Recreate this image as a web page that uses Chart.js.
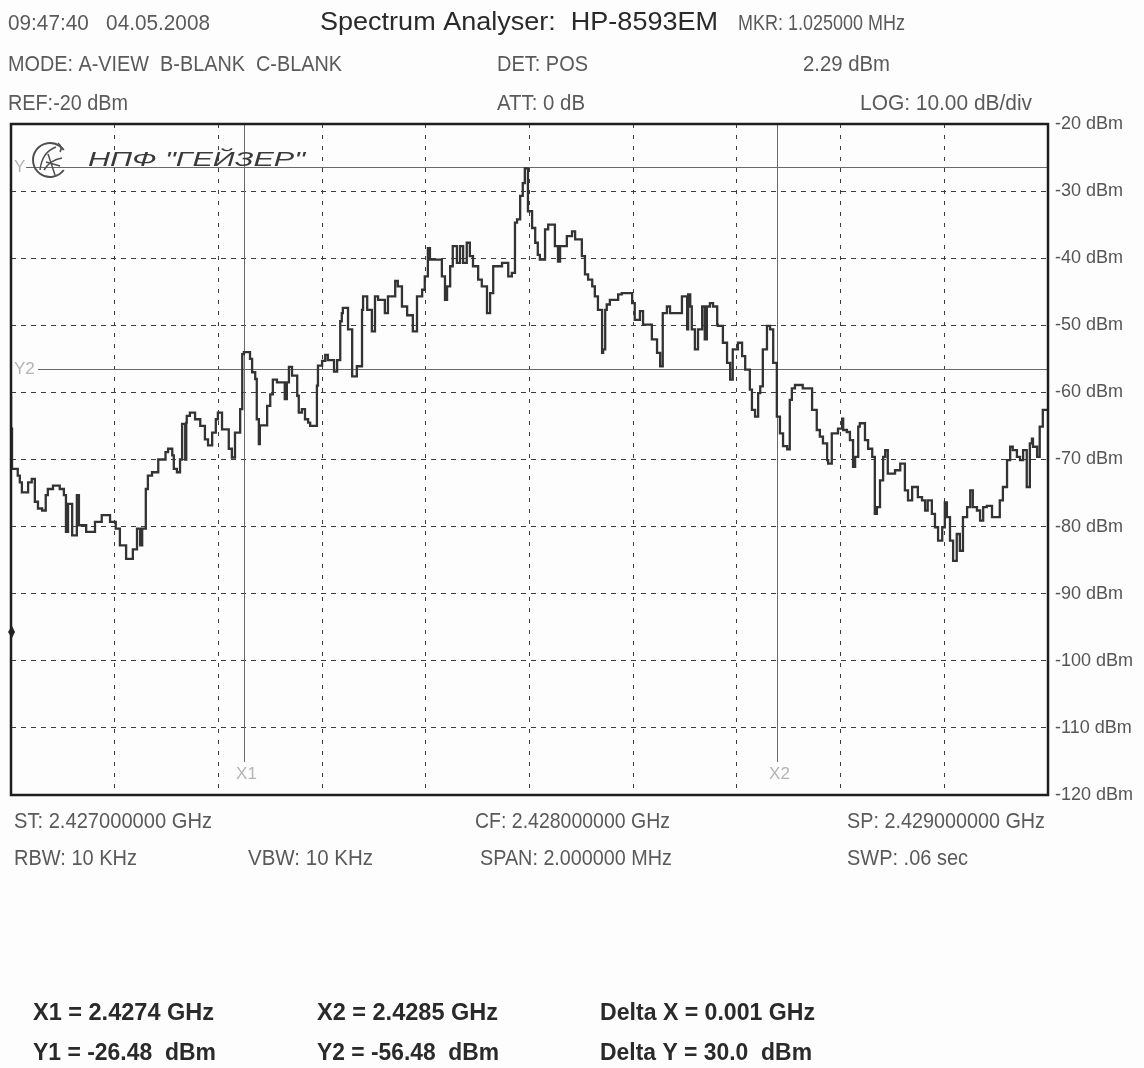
<!DOCTYPE html>
<html>
<head>
<meta charset="utf-8">
<script src="https://cdn.jsdelivr.net/npm/chart.js@4/dist/chart.umd.min.js"></script>
<style>
    html, body { margin: 0; padding: 0; background: #fdfdfd; }
    #spectrum { display: block; }
</style>
</head>
<body>
<canvas id="spectrum" width="1144" height="1068"></canvas>
<script>
const startMHz = 2427;
const stopMHz = 2429;
const levelTicks = [-20, -30, -40, -50, -60, -70, -80, -90, -100, -110, -120];

// trace breakpoints: kHz above ST, level in dBm (held until next breakpoint)
const offsetKHz = [
    0, 2, 13, 17, 21, 33, 40, 46, 52, 60, 67, 71, 81, 94, 102, 106, 110, 118, 127, 131,
    145, 162, 175, 191, 202, 210, 222, 235, 243, 249, 253, 260, 264, 272, 284, 298, 303, 311, 314, 320,
    326, 330, 336, 338, 339, 345, 355, 365, 374, 380, 388, 395, 399, 407, 420, 426, 432, 442, 446, 449,
    461, 465, 471, 474, 478, 480, 494, 500, 505, 513, 528, 532, 536, 542, 552, 555, 561, 567, 573, 577,
    590, 592, 600, 606, 611, 623, 629, 635, 638, 640, 650, 658, 667, 677, 679, 687, 696, 702, 708, 721,
    727, 741, 746, 754, 764, 775, 783, 793, 798, 804, 808, 831, 837, 841, 847, 852, 860, 866, 872, 879,
    885, 891, 901, 908, 918, 924, 930, 947, 959, 966, 972, 976, 982, 987, 991, 997, 1005, 1011, 1016, 1020,
    1030, 1036, 1049, 1055, 1059, 1072, 1082, 1088, 1101, 1107, 1113, 1121, 1126, 1132, 1140, 1142, 1146, 1149, 1155, 1171,
    1178, 1198, 1203, 1213, 1219, 1236, 1246, 1252, 1257, 1265, 1271, 1294, 1304, 1306, 1310, 1313, 1319, 1325, 1333, 1338,
    1342, 1348, 1354, 1362, 1363, 1373, 1381, 1387, 1392, 1402, 1410, 1416, 1425, 1429, 1435, 1441, 1445, 1450, 1458, 1464,
    1470, 1477, 1483, 1489, 1497, 1502, 1506, 1512, 1527, 1545, 1554, 1560, 1566, 1574, 1576, 1583, 1595, 1603, 1605, 1612,
    1618, 1624, 1628, 1634, 1637, 1647, 1653, 1661, 1666, 1670, 1676, 1682, 1686, 1691, 1705, 1715, 1724, 1730, 1738, 1749,
    1757, 1763, 1768, 1776, 1782, 1788, 1796, 1801, 1805, 1811, 1817, 1824, 1830, 1836, 1844, 1850, 1855, 1863, 1869, 1875,
    1882, 1892, 1907, 1913, 1921, 1927, 1932, 1940, 1946, 1952, 1959, 1965, 1969, 1971, 1979, 1984, 1990, 1995, 2000
];
const levelDbm = [
    -60.5, -65.4, -71.4, -72.4, -73.4, -74.9, -73.4, -72.9, -76.3, -77.3, -77.6, -75.3, -74.4, -73.9, -74.4, -75.3, -80.8, -76.6, -81.3, -75.3,
    -79.8, -80.8, -79.3, -78.3, -79.3, -80.3, -82.8, -84.8, -83.4, -80.3, -82.8, -80.3, -74.4, -72.4, -71.9, -70.0, -68.9, -68.4, -69.4, -71.4,
    -71.9, -70.0, -64.7, -70.0, -64.5, -63.5, -63.0, -64.0, -65.0, -67.0, -67.9, -66.0, -64.0, -63.0, -65.5, -68.4, -69.7, -66.0, -62.5, -54.3,
    -54.0, -55.0, -57.0, -58.0, -64.0, -67.7, -64.9, -62.0, -60.3, -58.1, -58.5, -61.0, -58.5, -56.2, -57.5, -60.5, -63.0, -62.5, -64.0, -64.5,
    -65.0, -59.0, -56.0, -55.3, -54.4, -55.2, -56.9, -55.2, -49.4, -48.2, -47.4, -50.6, -57.6, -56.1, -47.7, -45.7, -47.7, -50.9, -45.7, -46.2,
    -48.2, -45.7, -43.4, -44.2, -47.2, -48.5, -50.9, -45.7, -44.7, -42.7, -38.5, -40.2, -42.7, -46.2, -44.2, -41.2, -38.2, -40.7, -38.2, -40.7,
    -37.7, -39.7, -41.2, -43.2, -44.2, -48.2, -45.2, -41.2, -40.7, -42.7, -42.2, -34.7, -34.2, -30.7, -28.8, -26.6, -33.0, -35.5, -37.7, -39.5,
    -40.2, -35.7, -35.0, -38.2, -40.5, -38.2, -36.7, -36.0, -37.2, -39.7, -42.4, -43.2, -44.2, -45.7, -47.7, -54.1, -53.6, -47.7, -46.9, -46.2,
    -45.4, -45.2, -46.7, -49.2, -47.9, -49.9, -52.1, -54.1, -56.1, -48.2, -47.2, -48.2, -45.7, -50.6, -45.4, -47.2, -50.6, -53.6, -50.6, -47.2,
    -52.1, -47.2, -46.7, -47.2, -49.9, -50.1, -52.6, -55.6, -58.1, -53.6, -52.6, -54.6, -56.6, -59.6, -62.6, -63.6, -60.1, -59.1, -53.6, -50.1,
    -50.6, -55.6, -63.6, -66.1, -68.0, -68.5, -61.1, -59.4, -58.9, -59.4, -62.6, -65.6, -66.6, -67.6, -70.1, -70.6, -66.1, -65.4, -63.9, -65.6,
    -65.9, -67.1, -71.1, -69.6, -65.1, -64.6, -67.1, -68.4, -69.6, -78.1, -77.1, -73.1, -69.6, -68.6, -72.1, -71.6, -70.6, -74.6, -76.1, -74.1,
    -75.6, -76.1, -77.6, -76.1, -78.1, -80.1, -82.1, -80.1, -76.4, -78.6, -82.1, -85.1, -81.1, -83.6, -78.6, -77.1, -74.6, -77.1, -77.6, -79.1,
    -77.1, -76.9, -78.6, -76.1, -74.1, -70.1, -68.1, -68.6, -69.6, -70.1, -68.6, -74.1, -67.6, -66.9, -68.1, -69.6, -65.1, -62.6, -62.6
];

// markers
const freqMarkerNames = ['X1', 'X2'];
const freqMarkerMHz = [2427.449, 2428.477];
const levelMarkerNames = ['Y1', 'Y2'];
const levelMarkerDbm = [-26.48, -56.48];
const refArrowDbm = -95.7;

const FONT = '"Liberation Sans", Arial, sans-serif';

const textRows = [
    // text, left, baseline, width, font, colour
    ['09:47:40   04.05.2008', 8, 30, 202, `22px ${FONT}`, '#5a5a5a'],
    ['Spectrum Analyser:  HP-8593EM', 320, 30, 398, `25px ${FONT}`, '#2a2a2a'],
    ['MKR: 1.025000 MHz', 738, 30, 167, `22px ${FONT}`, '#5a5a5a'],
    ['MODE: A-VIEW  B-BLANK  C-BLANK', 8, 71, 334, `22px ${FONT}`, '#5a5a5a'],
    ['DET: POS', 497, 71, 91, `22px ${FONT}`, '#5a5a5a'],
    ['2.29 dBm', 803, 71, 87, `22px ${FONT}`, '#5a5a5a'],
    ['REF:-20 dBm', 8, 110, 120, `22px ${FONT}`, '#5a5a5a'],
    ['ATT: 0 dB', 497, 110, 88, `22px ${FONT}`, '#5a5a5a'],
    ['LOG: 10.00 dB/div', 860, 110, 172, `22px ${FONT}`, '#5a5a5a'],
    ['ST: 2.427000000 GHz', 14, 828, 198, `22px ${FONT}`, '#5a5a5a'],
    ['CF: 2.428000000 GHz', 475, 828, 195, `22px ${FONT}`, '#5a5a5a'],
    ['SP: 2.429000000 GHz', 847, 828, 198, `22px ${FONT}`, '#5a5a5a'],
    ['RBW: 10 KHz', 14, 865, 123, `22px ${FONT}`, '#5a5a5a'],
    ['VBW: 10 KHz', 248, 865, 125, `22px ${FONT}`, '#5a5a5a'],
    ['SPAN: 2.000000 MHz', 480, 865, 192, `22px ${FONT}`, '#5a5a5a'],
    ['SWP: .06 sec', 847, 865, 121, `22px ${FONT}`, '#5a5a5a'],
    ['X1 = 2.4274 GHz', 33, 1020, 181, `bold 23px ${FONT}`, '#2a2a2a'],
    ['X2 = 2.4285 GHz', 317, 1020, 181, `bold 23px ${FONT}`, '#2a2a2a'],
    ['Delta X = 0.001 GHz', 600, 1020, 215, `bold 23px ${FONT}`, '#2a2a2a'],
    ['Y1 = -26.48  dBm', 33, 1060, 183, `bold 23px ${FONT}`, '#2a2a2a'],
    ['Y2 = -56.48  dBm', 317, 1060, 182, `bold 23px ${FONT}`, '#2a2a2a'],
    ['Delta Y = 30.0  dBm', 600, 1060, 212, `bold 23px ${FONT}`, '#2a2a2a']
];

function fitText(ctx, text, x, y, width, font, color) {
    ctx.save();
    ctx.font = font;
    ctx.fillStyle = color;
    ctx.textBaseline = 'alphabetic';
    ctx.textAlign = 'left';
    const w = ctx.measureText(text).width;
    ctx.translate(x, y);
    ctx.scale(width / w, 1);
    ctx.fillText(text, 0, 0);
    ctx.restore();
}

function drawLogo(ctx) {
    ctx.save();
    ctx.strokeStyle = '#505050';
    ctx.lineWidth = 2;
    ctx.beginPath();
    ctx.arc(50, 160, 17, 0.2 * Math.PI, 1.8 * Math.PI);
    ctx.stroke();
    ctx.lineWidth = 1.5;
    ctx.beginPath();
    ctx.moveTo(40, 170);
    ctx.quadraticCurveTo(42, 152, 56, 147);
    ctx.moveTo(44, 170);
    ctx.quadraticCurveTo(50, 160, 62, 158);
    ctx.moveTo(46, 162);
    ctx.lineTo(60, 166);
    ctx.moveTo(48, 154);
    ctx.lineTo(55, 175);
    ctx.moveTo(58, 143);
    ctx.quadraticCurveTo(63, 147, 60, 152);
    ctx.stroke();
    ctx.restore();
    fitText(ctx, 'НПФ "ГЕЙЗЕР"', 88, 166, 217, `italic 21px ${FONT}`, '#3a3a3a');
}

const overlay = {
    id: 'overlay',
    beforeDatasetsDraw(chart) {
        const {ctx, chartArea: a, scales: {x, y}} = chart;
        ctx.save();
        ctx.strokeStyle = '#6a6a6a';
        ctx.lineWidth = 1;
        ctx.fillStyle = '#b4b4b4';
        ctx.font = `17px ${FONT}`;
        ctx.textBaseline = 'middle';
        levelMarkerDbm.forEach((v, i) => {
            const py = Math.round(y.getPixelForValue(v)) + 0.5;
            const startX = i === 0 ? 26 : 38;
            ctx.beginPath();
            ctx.moveTo(startX, py);
            ctx.lineTo(a.right, py);
            ctx.stroke();
            ctx.fillText(i === 0 ? 'Y' : levelMarkerNames[i], 14, py);
        });
        freqMarkerMHz.forEach((f, i) => {
            const px = Math.round(x.getPixelForValue(f)) + 0.5;
            ctx.beginPath();
            ctx.moveTo(px, a.top);
            ctx.lineTo(px, 762);
            ctx.stroke();
            ctx.textAlign = 'center';
            ctx.fillText(freqMarkerNames[i], px + 2, 774);
        });
        ctx.restore();
    },
    afterDatasetsDraw(chart) {
        const {ctx, chartArea: a, scales: {y}} = chart;
        drawLogo(ctx);
        ctx.save();
        ctx.strokeStyle = '#1e1e1e';
        ctx.lineWidth = 2.5;
        ctx.strokeRect(a.left, a.top, a.right - a.left, a.bottom - a.top);
        // reference level arrow on the left edge
        const ry = y.getPixelForValue(refArrowDbm);
        ctx.fillStyle = '#222';
        ctx.beginPath();
        ctx.moveTo(a.left - 3, ry);
        ctx.lineTo(a.left + 1, ry - 6);
        ctx.lineTo(a.left + 4, ry);
        ctx.lineTo(a.left + 1, ry + 6);
        ctx.closePath();
        ctx.fill();
        ctx.restore();
    },
    afterDraw(chart) {
        textRows.forEach(r => fitText(chart.ctx, ...r));
    }
};

const ctx = document.getElementById('spectrum').getContext('2d');
new Chart(ctx, {
    type: 'line',
    data: {
        datasets: [{
            data: offsetKHz.map((k, i) => ({x: startMHz + k / 1000, y: levelDbm[i]})),
            stepped: 'after',
            borderColor: '#333',
            borderWidth: 2.3,
            pointRadius: 0,
            fill: false
        }]
    },
    options: {
        responsive: false,
        animation: false,
        layout: {
            padding: {left: 11, top: 124, right: 0, bottom: 273}
        },
        plugins: {
            legend: {display: false},
            tooltip: {enabled: false}
        },
        scales: {
            x: {
                type: 'linear',
                min: startMHz,
                max: stopMHz,
                ticks: {display: false, stepSize: 0.2},
                grid: {color: '#3c3c3c', lineWidth: 1, drawTicks: false},
                border: {display: false, dash: [4, 7]},
                afterFit: scale => { scale.height = 0; }
            },
            y: {
                position: 'right',
                min: -120,
                max: -20,
                afterBuildTicks: scale => { scale.ticks = levelTicks.map(v => ({value: v})); },
                ticks: {
                    color: '#555',
                    padding: 7,
                    font: {family: FONT, size: 18},
                    callback: v => `${v} dBm`
                },
                grid: {color: '#3c3c3c', lineWidth: 1, drawTicks: false},
                border: {display: false, dash: [5, 5]},
                afterFit: scale => { scale.width = 96; }
            }
        }
    },
    plugins: [overlay]
});
</script>
</body>
</html>
